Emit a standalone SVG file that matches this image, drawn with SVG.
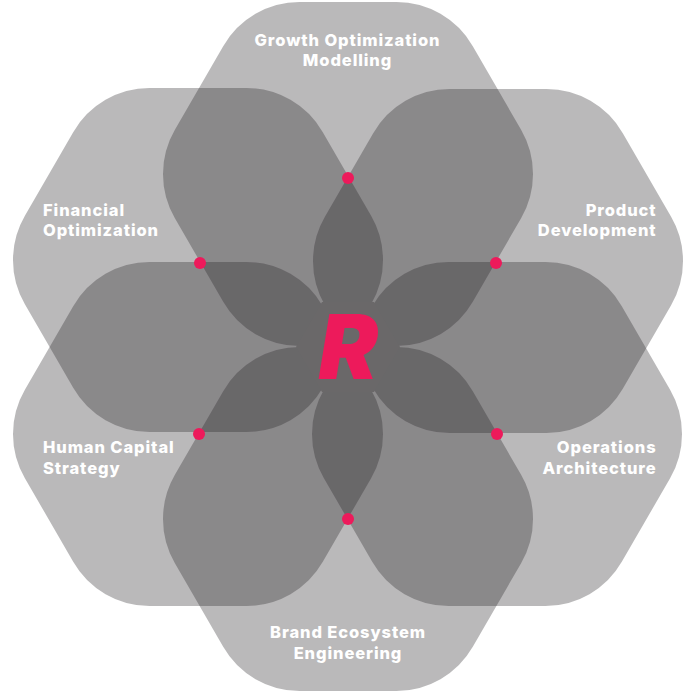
<svg xmlns="http://www.w3.org/2000/svg" width="700" height="700" viewBox="0 0 700 700">
<style>
.hex{fill:rgb(36,33,35);fill-opacity:.315}
.lbl{font-family:"Inter","Liberation Sans",sans-serif;font-weight:800;font-size:16.5px;letter-spacing:.9px;fill:#fff}
.dot{fill:#ed1a5b}
.r{font-family:"Inter","Liberation Sans",sans-serif;font-weight:900;font-style:italic;font-size:89px;fill:#ed1a5b}
</style>
<defs>
<path id="hx" d="M-48.3-172H48.3A88 88 0 0 1 124.8-127.8L173.1-44.2A88 88 0 0 1 173.1 44.2L124.8 127.8A88 88 0 0 1 48.3 172H-48.3A88 88 0 0 1-124.8 127.8L-173.1 44.2A88 88 0 0 1-173.1-44.2L-124.8-127.8A88 88 0 0 1-48.3-172Z"/>
</defs>
<rect width="700" height="700" fill="#fff"/>
<g id="growth"><use href="#hx" class="hex" x="348" y="174"/>
<text class="lbl" text-anchor="middle" x="347.500" y="46">Growth Optimization</text>
<text class="lbl" text-anchor="middle" x="347.500" y="66">Modelling</text></g>
<g id="product"><use href="#hx" class="hex" x="498" y="261"/>
<text class="lbl" text-anchor="end" x="656.500" y="216">Product</text>
<text class="lbl" text-anchor="end" x="656.500" y="236">Development</text></g>
<g id="operations"><use href="#hx" class="hex" x="497" y="434"/>
<text class="lbl" text-anchor="end" x="656.500" y="453">Operations</text>
<text class="lbl" text-anchor="end" x="656.500" y="474">Architecture</text></g>
<g id="brand"><use href="#hx" class="hex" x="348" y="519"/>
<text class="lbl" text-anchor="middle" x="348" y="638">Brand Ecosystem</text>
<text class="lbl" text-anchor="middle" x="348" y="659">Engineering</text></g>
<g id="human"><use href="#hx" class="hex" x="198" y="434"/>
<text class="lbl" x="43" y="453">Human Capital</text>
<text class="lbl" x="43" y="474">Strategy</text></g>
<g id="financial"><use href="#hx" class="hex" x="198" y="260"/>
<text class="lbl" x="43" y="216">Financial</text>
<text class="lbl" x="43" y="236">Optimization</text></g>
<g id="dots">
<circle class="dot" cx="348" cy="178" r="6"/>
<circle class="dot" cx="496" cy="263" r="6"/>
<circle class="dot" cx="497" cy="434" r="6"/>
<circle class="dot" cx="348" cy="519" r="6"/>
<circle class="dot" cx="199" cy="434" r="6"/>
<circle class="dot" cx="200" cy="263" r="6"/>
</g>
<g id="center">
<polygon points="322,302 374,302 400,347 374,392 322,392 296,347" fill="rgb(106,104,105)"/>
<text class="r" x="318.500" y="379">R</text></g>
</svg>
